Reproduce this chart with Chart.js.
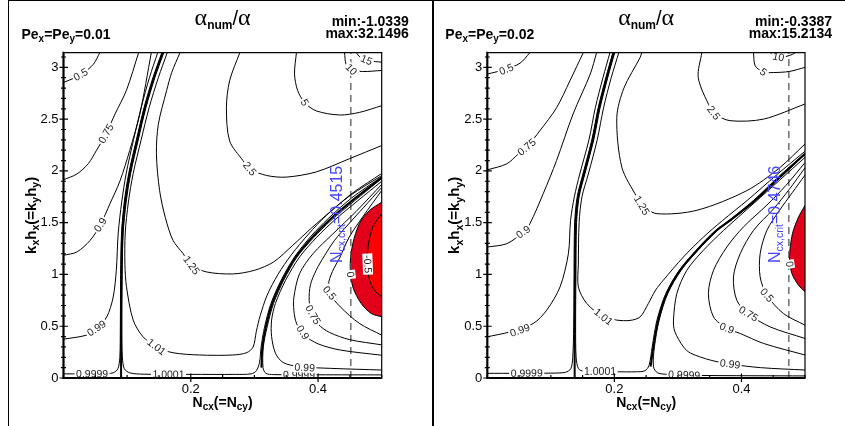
<!DOCTYPE html>
<html><head><meta charset="utf-8">
<script src="https://cdn.jsdelivr.net/npm/chart.js@4/dist/chart.umd.min.js"></script>
<style>
html,body{margin:0;padding:0;background:#fff;}
#wrap{position:relative;width:845px;height:426px;overflow:hidden;background:#fff;}
.frame{position:absolute;border:1px solid #000;box-sizing:border-box;}
canvas{position:absolute;top:0;}
</style></head><body>
<div id="wrap">
<div class="frame" style="left:8px;top:0;width:425px;height:440px"></div>
<div class="frame" style="left:433px;top:0;width:420px;height:440px"></div>
<canvas id="c1" width="432" height="426" style="left:0"></canvas>
<canvas id="c2" width="413" height="426" style="left:432px"></canvas>
</div>
<script>
const FONT = "'Liberation Sans', Arial, Helvetica, sans-serif";
Chart.defaults.font.family = FONT;

// ---- axis / annotation data ----
const xTickLabels = ['0.2', '0.4'];
const yTickLabels = ['0', '0.5', '1', '1.5', '2', '2.5', '3'];
const pecletValues = ['0.01', '0.02'];
const minValues = ['-1.0339', '-0.3387'];
const maxValues = ['32.1496', '15.2134'];
const nCrit = [0.4515, 0.4746];
const kMax = Math.PI;

// ---- left panel (Pe = 0.01) contour lines: [Ncx, kx*hx] ----
const A_c050 = [[0,2.855],[0.018,2.90],[0.032,2.95],[0.047,3.03],[0.057,3.1416]];
const A_c075 = [[0,1.915],[0.021,1.97],[0.039,2.07],[0.052,2.20],[0.067,2.36],[0.081,2.55],[0.099,2.78],[0.118,3.1416]];
const A_c090 = [[0,1.185],[0.021,1.217],[0.042,1.33],[0.058,1.48],[0.073,1.683],[0.089,1.907],[0.104,2.197],[0.12,2.55],[0.138,3.1416]];
const A_c099 = [[0,0.375],[0.036,0.414],[0.052,0.479],[0.068,0.59],[0.078,0.78],[0.083,1.04],[0.086,1.4],[0.0915,1.7],[0.0985,1.975],[0.11,2.3],[0.122,2.61],[0.135,2.9],[0.148,3.1416]];
const A_c09999 = [[0,0.04],[0.06,0.041],[0.078,0.05],[0.0855,0.09],[0.0885,0.2],[0.0893,0.5],[0.0898,1.0],[0.0912,1.4],[0.0955,1.7],[0.1025,1.975],[0.1145,2.3],[0.1265,2.61],[0.1405,2.9],[0.1545,3.1416]];
const A_c1a = [[0.0905,0.01],[0.0905,0.5],[0.091,1.0],[0.0925,1.4],[0.097,1.7],[0.104,1.975],[0.116,2.3],[0.128,2.61],[0.142,2.9],[0.156,3.1416]];
const A_c10001 = [[0.1575,3.1416],[0.1435,2.9],[0.1295,2.61],[0.1175,2.3],[0.1055,1.975],[0.0985,1.7],[0.0938,1.4],[0.0922,1.0],[0.0917,0.5],[0.0925,0.2],[0.0955,0.09],[0.104,0.05],[0.125,0.037],[0.2,0.035],[0.27,0.035],[0.295,0.04],[0.303,0.07],[0.308,0.15],[0.3105,0.3],[0.316,0.494],[0.326,0.72],[0.342,0.944],[0.363,1.169],[0.389,1.37],[0.416,1.54],[0.453,1.74],[0.5,1.943]];
const A_c1b = [[0.311,0.1],[0.3125,0.3],[0.318,0.494],[0.328,0.72],[0.344,0.944],[0.365,1.169],[0.391,1.361],[0.418,1.527],[0.455,1.72],[0.5,1.935]];
const A_c09999b = [[0.5,0.03],[0.4,0.031],[0.33,0.033],[0.318,0.045],[0.3135,0.1],[0.314,0.3],[0.32,0.494],[0.33,0.72],[0.346,0.944],[0.367,1.169],[0.393,1.355],[0.42,1.52],[0.457,1.71],[0.5,1.927]];
const A_c101 = [[0.163,3.1416],[0.149,2.9],[0.1345,2.61],[0.122,2.3],[0.1095,1.975],[0.102,1.7],[0.097,1.4],[0.0965,1.1],[0.099,0.88],[0.1095,0.559],[0.125,0.398],[0.146,0.30],[0.172,0.244],[0.214,0.222],[0.266,0.222],[0.288,0.245],[0.298,0.3],[0.303,0.45],[0.309,0.6],[0.32,0.8],[0.337,1.0],[0.358,1.19],[0.385,1.39],[0.413,1.57],[0.45,1.76],[0.5,1.955]];
const A_c125 = [[0.183,3.1416],[0.17,2.95],[0.162,2.775],[0.149,2.45],[0.146,2.165],[0.151,1.81],[0.16,1.55],[0.172,1.33],[0.188,1.2],[0.201,1.089],[0.225,1.024],[0.266,1.005],[0.3,1.04],[0.33,1.12],[0.36,1.28],[0.39,1.45],[0.42,1.61],[0.455,1.79],[0.5,1.975]];
const A_c250 = [[0.277,3.1416],[0.261,2.87],[0.256,2.61],[0.261,2.29],[0.282,2.10],[0.2925,2.02],[0.319,1.956],[0.35,1.94],[0.397,1.99],[0.449,2.117],[0.5,2.245]];
const A_c500 = [[0.366,3.1416],[0.363,2.935],[0.368,2.775],[0.379,2.66],[0.397,2.58],[0.434,2.54],[0.465,2.565],[0.5,2.63]];
const A_c1000 = [[0.4416,3.1416],[0.444,3.03],[0.452,2.98],[0.47,2.96],[0.5,2.97]];
const A_c1500 = [[0.46,3.1416],[0.466,3.1],[0.48,3.065],[0.5,3.05]];
const A_r099 = [[0.5,0.077],[0.42,0.093],[0.37,0.11],[0.345,0.15],[0.333,0.24],[0.327,0.4],[0.327,0.56],[0.333,0.72],[0.349,0.944],[0.371,1.169],[0.398,1.36],[0.425,1.52],[0.462,1.71],[0.5,1.90]];
const A_r090 = [[0.5,0.22],[0.435,0.27],[0.4,0.33],[0.377,0.42],[0.366,0.53],[0.362,0.65],[0.362,0.78],[0.371,1.009],[0.392,1.2],[0.423,1.39],[0.46,1.61],[0.5,1.87]];
const A_r075 = [[0.5,0.32],[0.45,0.37],[0.418,0.44],[0.4,0.52],[0.39,0.63],[0.386,0.75],[0.388,0.9],[0.397,1.04],[0.41,1.18],[0.426,1.33],[0.447,1.48],[0.472,1.65],[0.5,1.84]];
const A_r050 = [[0.5,0.414],[0.465,0.527],[0.435,0.687],[0.418,0.82],[0.417,0.93],[0.425,1.06],[0.434,1.16],[0.449,1.361],[0.47,1.554],[0.5,1.811]];
const A_r000 = [[0.5,1.698],[0.4808,1.618],[0.4651,1.493],[0.4546,1.298],[0.4505,1.089],[0.4546,0.880],[0.4678,0.720],[0.4835,0.623],[0.5,0.591]];
const A_rm050 = [[0.5,1.587],[0.486,1.458],[0.478,1.233],[0.4797,0.976],[0.4886,0.848],[0.5,0.783]];

// ---- right panel (Pe = 0.02) ----
const B_c050 = [[0,2.935],[0.028,2.98],[0.0515,3.04],[0.067,3.1416]];
const B_c075 = [[0,2.01],[0.0306,2.068],[0.049,2.165],[0.062,2.23],[0.083,2.39],[0.109,2.61],[0.13,2.87],[0.151,3.1416]];
const B_c090 = [[0,1.265],[0.0306,1.297],[0.0567,1.41],[0.067,1.49],[0.088,1.78],[0.109,2.10],[0.135,2.55],[0.162,2.935],[0.172,3.1416]];
const B_c099 = [[0,0.398],[0.036,0.446],[0.0724,0.527],[0.0935,0.655],[0.1145,0.88],[0.1276,1.2],[0.131,1.52],[0.137,1.75],[0.1455,1.97],[0.16,2.3],[0.17,2.61],[0.182,2.9],[0.193,3.1416]];
const B_c09999 = [[0,0.045],[0.1,0.047],[0.123,0.055],[0.1315,0.09],[0.1345,0.2],[0.136,0.5],[0.1365,1.0],[0.1375,1.5],[0.1415,1.75],[0.1505,1.97],[0.1645,2.3],[0.1745,2.61],[0.1865,2.9],[0.1975,3.1416]];
const B_c1a = [[0.1375,0.01],[0.1375,0.5],[0.138,1.0],[0.139,1.5],[0.143,1.75],[0.152,1.97],[0.166,2.3],[0.176,2.61],[0.188,2.9],[0.199,3.1416]];
const B_c10001 = [[0.2005,3.1416],[0.1895,2.9],[0.1775,2.61],[0.1675,2.3],[0.1535,1.97],[0.1445,1.75],[0.1405,1.5],[0.1395,1.0],[0.139,0.5],[0.1398,0.2],[0.1435,0.09],[0.152,0.065],[0.175,0.06],[0.2,0.06],[0.235,0.06],[0.248,0.07],[0.2545,0.12],[0.2595,0.3],[0.267,0.559],[0.281,0.816],[0.302,1.04],[0.3285,1.233],[0.3595,1.426],[0.3805,1.522],[0.4185,1.712],[0.4585,1.945],[0.5,2.17]];
const B_c1b = [[0.257,0.109],[0.2614,0.30],[0.269,0.559],[0.2825,0.816],[0.3035,1.04],[0.33,1.233],[0.361,1.426],[0.382,1.522],[0.42,1.71],[0.46,1.94],[0.5,2.165]];
const B_c09999b = [[0.5,0.02],[0.33,0.025],[0.285,0.035],[0.268,0.05],[0.2615,0.11],[0.263,0.3],[0.2705,0.559],[0.284,0.816],[0.305,1.04],[0.3315,1.233],[0.3625,1.426],[0.3835,1.522],[0.4215,1.707],[0.4615,1.935],[0.5,2.16]];
const B_c101 = [[0.207,3.1416],[0.195,2.9],[0.183,2.61],[0.173,2.3],[0.159,1.97],[0.149,1.75],[0.1445,1.5],[0.1433,1.1],[0.1433,0.88],[0.1565,0.72],[0.1827,0.59],[0.2038,0.559],[0.2247,0.556],[0.2405,0.59],[0.2535,0.72],[0.265,0.85],[0.277,0.944],[0.3087,1.169],[0.34,1.36],[0.37,1.52],[0.41,1.72],[0.455,1.96],[0.5,2.19]];
const B_c125 = [[0.243,3.1416],[0.2405,3.095],[0.215,2.8],[0.2038,2.517],[0.2117,2.036],[0.2353,1.747],[0.243,1.667],[0.267,1.587],[0.33,1.62],[0.4085,1.81],[0.46,2.03],[0.5,2.26]];
const B_c250 = [[0.3376,3.1416],[0.332,2.90],[0.3507,2.61],[0.358,2.55],[0.382,2.485],[0.4346,2.50],[0.5,2.646]];
const B_c500 = [[0.419,3.1416],[0.4216,3.015],[0.4346,2.955],[0.45,2.95],[0.475,2.96],[0.5,3.0]];
const B_c1000 = [[0.446,3.1416],[0.45,3.11],[0.458,3.1],[0.47,3.105],[0.48,3.125],[0.485,3.1416]];
const B_r099 = [[0.5,0.077],[0.43,0.1],[0.382,0.135],[0.351,0.173],[0.32,0.24],[0.3087,0.30],[0.295,0.45],[0.293,0.559],[0.2983,0.816],[0.314,1.04],[0.34,1.233],[0.372,1.426],[0.42,1.69],[0.46,1.91],[0.5,2.13]];
const B_r090 = [[0.5,0.222],[0.4346,0.334],[0.398,0.43],[0.377,0.48],[0.356,0.59],[0.348,0.816],[0.356,1.04],[0.377,1.265],[0.403,1.458],[0.44,1.67],[0.47,1.86],[0.5,2.08]];
const B_r075 = [[0.5,0.382],[0.445,0.494],[0.411,0.62],[0.3927,0.75],[0.3874,0.976],[0.398,1.20],[0.419,1.426],[0.45,1.63],[0.475,1.82],[0.5,2.03]];
const B_r050 = [[0.5,0.51],[0.466,0.623],[0.44,0.8],[0.4294,0.976],[0.4294,1.2],[0.44,1.426],[0.46,1.62],[0.48,1.79],[0.5,1.96]];
const B_r000 = [[0.5,1.667],[0.4898,1.554],[0.4803,1.394],[0.4756,1.169],[0.4794,1.009],[0.4898,0.896],[0.5,0.831]];

// ---- contour labels: [text, line, N, k] ----
const A_labels = [
  ['0.5', A_c050, 0.027, 2.93], ['0.75', A_c075, 0.067, 2.36], ['0.9', A_c090, 0.058, 1.48],
  ['0.99', A_c099, 0.052, 0.479], ['0.9999', A_c09999, 0.045, 0.04], ['1.0001', A_c10001, 0.165, 0.036],
  ['1.01', A_c101, 0.146, 0.30], ['1.25', A_c125, 0.201, 1.089], ['2.5', A_c250, 0.2925, 2.02],
  ['5', A_c500, 0.379, 2.66], ['10', A_c1000, 0.452, 2.98], ['15', A_c1500, 0.476, 3.07],
  ['0.9999', A_c09999b, 0.37, 0.031], ['0.99', A_r099, 0.379, 0.1], ['0.9', A_r090, 0.376, 0.44],
  ['0.75', A_r075, 0.392, 0.61], ['0.5', A_r050, 0.418, 0.82], ['0', A_r000, 0.451, 1.0], ['-0.5', A_rm050, 0.478, 1.1]
];
const B_labels = [
  ['0.5', B_c050, 0.03, 2.98], ['0.75', B_c075, 0.062, 2.23], ['0.9', B_c090, 0.0567, 1.41],
  ['0.99', B_c099, 0.0515, 0.46], ['0.9999', B_c09999, 0.062, 0.046], ['1.0001', B_c10001, 0.1775, 0.06],
  ['1.01', B_c101, 0.1827, 0.59], ['1.25', B_c125, 0.243, 1.667], ['2.5', B_c250, 0.356, 2.56],
  ['5', B_c500, 0.4346, 2.955], ['10', B_c1000, 0.458, 3.1], ['0.9999', B_c09999b, 0.31, 0.03],
  ['0.99', B_r099, 0.382, 0.135], ['0.9', B_r090, 0.377, 0.48], ['0.75', B_r075, 0.411, 0.62],
  ['0.5', B_r050, 0.44, 0.8], ['0', B_r000, 0.4756, 1.1]
];

// ---- helpers ----
const toXY = pts => pts.map(p => ({x: p[0], y: p[1]}));
function lineDS(pts, w) {
  return {data: toXY(pts), showLine: true, pointRadius: 0, borderColor: '#000', borderWidth: w || 1, tension: 0.3, fill: false, order: 0};
}
function areaDS(pts, color, order) {
  return {data: toXY(pts), showLine: true, pointRadius: 0, borderColor: '#000', borderWidth: 1, backgroundColor: color, fill: 'shape', tension: 0.3, order: order};
}
function dashedDS(n) {
  return {data: [{x: n, y: 0}, {x: n, y: kMax}], showLine: true, pointRadius: 0, borderColor: '#555', borderWidth: 1.3, borderDash: [7, 5], tension: 0, order: 1};
}
function drawRich(ctx, parts, x, y) {
  let cx = x;
  for (const p of parts) { ctx.font = p.f; ctx.fillText(p.t, cx, y + (p.dy || 0)); cx += ctx.measureText(p.t).width; }
}
function richWidth(ctx, parts) {
  let w = 0; for (const p of parts) { ctx.font = p.f; w += ctx.measureText(p.t).width; } return w;
}

const panelPlugin = {
  id: 'panel',
  afterDatasetsDraw(chart, args, o) {
    const {ctx, chartArea: a, scales: {x, y}} = chart;
    ctx.save();
    // contour labels
    ctx.font = `10.5px ${FONT}`; ctx.textAlign = 'center'; ctx.textBaseline = 'middle';
    for (const [txt, pts, nx, ky] of o.labels) {
      const px = x.getPixelForValue(nx), py = y.getPixelForValue(ky);
      let best = 1e12, ang = 0;
      for (let i = 0; i < pts.length - 1; i++) {
        const ax = x.getPixelForValue(pts[i][0]), ay = y.getPixelForValue(pts[i][1]);
        const bx = x.getPixelForValue(pts[i+1][0]), by = y.getPixelForValue(pts[i+1][1]);
        const dx = bx - ax, dy = by - ay, L = dx*dx + dy*dy;
        let t = L ? ((px-ax)*dx + (py-ay)*dy) / L : 0; t = Math.max(0, Math.min(1, t));
        const d = (px - ax - t*dx) ** 2 + (py - ay - t*dy) ** 2;
        if (d < best) { best = d; ang = Math.atan2(dy, dx); }
      }
      if (ang > Math.PI/2) ang -= Math.PI;
      if (ang < -Math.PI/2) ang += Math.PI;
      const w = ctx.measureText(txt).width;
      ctx.save(); ctx.translate(px, py); ctx.rotate(ang);
      ctx.fillStyle = '#fff'; ctx.fillRect(-w/2 - 1.5, -5, w + 3, 10);
      ctx.fillStyle = '#222'; ctx.fillText(txt, 0, 0.5);
      ctx.restore();
    }
    // axes box
    ctx.strokeStyle = '#000';
    ctx.lineWidth = 1.2; ctx.beginPath();
    ctx.moveTo(a.left, a.top); ctx.lineTo(a.right, a.top); ctx.lineTo(a.right, a.bottom); ctx.stroke();
    ctx.lineWidth = 2.2; ctx.beginPath();
    ctx.moveTo(a.left, a.top - 1); ctx.lineTo(a.left, a.bottom); ctx.lineTo(a.right, a.bottom); ctx.stroke();
    ctx.lineWidth = 1.2; ctx.beginPath();
    for (const t of x.ticks) {
      const px = x.getPixelForValue(t.value), major = t.label !== '';
      ctx.moveTo(px, a.bottom - (major ? 4.5 : 3)); ctx.lineTo(px, a.bottom + (major ? 4 : 1));
    }
    for (const t of y.ticks) {
      const py = y.getPixelForValue(t.value), major = t.label !== '';
      ctx.moveTo(a.left - (major ? 4 : 2.5), py); ctx.lineTo(a.left + (major ? 4.5 : 2.5), py);
    }
    ctx.stroke();
    // critical Courant number annotation
    const nc = nCrit[o.idx];
    const bx = x.getPixelForValue(nc) - 9, by = y.getPixelForValue(1.58);
    const bparts = [{t: 'N', f: `16px ${FONT}`}, {t: 'cx,crit', f: `10.5px ${FONT}`, dy: 3}, {t: '=' + nc.toFixed(4), f: `16px ${FONT}`}];
    ctx.save(); ctx.translate(bx, by); ctx.rotate(-Math.PI/2);
    ctx.fillStyle = '#4646ff'; ctx.textAlign = 'left'; ctx.textBaseline = 'alphabetic';
    drawRich(ctx, bparts, -richWidth(ctx, bparts)/2, 0);
    ctx.restore();
    ctx.restore();
  },
  afterDraw(chart, args, o) {
    const {ctx, chartArea: a} = chart;
    const cx = (a.left + a.right) / 2, cy = (a.top + a.bottom) / 2;
    const B14 = `bold 14px ${FONT}`, B10 = `bold 10px ${FONT}`;
    ctx.save();
    ctx.fillStyle = '#000'; ctx.textBaseline = 'alphabetic'; ctx.textAlign = 'left';
    // title alpha_num / alpha
    const tparts = [{t: 'α', f: `24px 'Liberation Serif', serif`}, {t: 'num', f: `bold 12px ${FONT}`, dy: 4},
                    {t: '/', f: `20px ${FONT}`}, {t: 'α', f: `24px 'Liberation Serif', serif`}];
    drawRich(ctx, tparts, cx - richWidth(ctx, tparts)/2, 25);
    // Peclet
    drawRich(ctx, [{t: 'Pe', f: B14}, {t: 'x', f: B10, dy: 3}, {t: '=Pe', f: B14}, {t: 'y', f: B10, dy: 3},
                   {t: '=' + pecletValues[o.idx], f: B14}], a.left - 42, 39);
    // min / max
    ctx.textAlign = 'right'; ctx.font = B14;
    ctx.fillText('min:' + minValues[o.idx], a.right + 27, 26);
    ctx.fillText('max:' + maxValues[o.idx], a.right + 27, 37.5);
    ctx.textAlign = 'left';
    // x title
    const xparts = [{t: 'N', f: B14}, {t: 'cx', f: B10, dy: 3}, {t: '(=N', f: B14}, {t: 'cy', f: B10, dy: 3}, {t: ')', f: B14}];
    drawRich(ctx, xparts, cx - richWidth(ctx, xparts)/2, 407);
    // y title
    const B15 = `bold 15px ${FONT}`, B105 = `bold 10.5px ${FONT}`;
    const yparts = [{t: 'k', f: B15}, {t: 'x', f: B105, dy: 3.5}, {t: 'h', f: B15}, {t: 'x', f: B105, dy: 3.5},
                    {t: '(=k', f: B15}, {t: 'y', f: B105, dy: 3.5}, {t: 'h', f: B15}, {t: 'y', f: B105, dy: 3.5}, {t: ')', f: B15}];
    ctx.save(); ctx.translate(a.left - 28, cy); ctx.rotate(-Math.PI/2);
    drawRich(ctx, yparts, -richWidth(ctx, yparts)/2, 0);
    ctx.restore();
    ctx.restore();
  }
};

function tickCb(labels) {
  return v => { const l = labels.find(s => Math.abs(parseFloat(s) - v) < 1e-6); return l === undefined ? '' : l; };
}

function makeChart(id, idx, datasets, labels, yWidth, padRight) {
  return new Chart(document.getElementById(id), {
    type: 'scatter',
    data: {datasets},
    options: {
      responsive: false, animation: false, events: [],
      layout: {padding: {left: 0, right: padRight, top: 52.7, bottom: 0}},
      plugins: {legend: {display: false}, tooltip: {enabled: false}, panel: {idx, labels}},
      scales: {
        x: {type: 'linear', min: 0, max: 0.5, bounds: 'data',
            grid: {display: false, drawTicks: true, tickLength: 4}, border: {display: false},
            ticks: {stepSize: 0.05, autoSkip: false, maxRotation: 0, includeBounds: false, padding: 0,
                    color: '#000', font: {family: FONT, size: 13}, callback: tickCb(xTickLabels)},
            afterFit: s => { s.height = 48; }},
        y: {type: 'linear', min: 0, max: kMax, bounds: 'data',
            grid: {display: false, drawTicks: true, tickLength: 4}, border: {display: false},
            ticks: {stepSize: 0.1, autoSkip: false, includeBounds: false, padding: 1,
                    color: '#000', font: {family: FONT, size: 13}, callback: tickCb(yTickLabels)},
            afterFit: s => { s.width = yWidth; }}
      }
    },
    plugins: [panelPlugin]
  });
}

const A_lines = [A_c050, A_c075, A_c090, A_c099, A_c09999, A_c10001, A_c09999b, A_c101, A_c125, A_c250, A_c500, A_c1000, A_c1500, A_r099, A_r090, A_r075, A_r050];
const A_ds = [
  areaDS(A_r000, '#e2001a', 6), areaDS(A_rm050, '#ff0000', 5),
  ...A_lines.map(p => lineDS(p, 1)), lineDS(A_c1a, 2), lineDS(A_c1b, 2), dashedDS(nCrit[0])
];
const B_lines = [B_c050, B_c075, B_c090, B_c099, B_c09999, B_c10001, B_c09999b, B_c101, B_c125, B_c250, B_c500, B_c1000, B_r099, B_r090, B_r075, B_r050];
const B_ds = [
  areaDS(B_r000, '#e2001a', 6),
  ...B_lines.map(p => lineDS(p, 1)), lineDS(B_c1a, 2), lineDS(B_c1b, 2), dashedDS(nCrit[1])
];

makeChart('c1', 0, A_ds, A_labels, 63.5, 432 - 381.7);
makeChart('c2', 1, B_ds, B_labels, 55.3, 413 - 373);
</script>
</body></html>
